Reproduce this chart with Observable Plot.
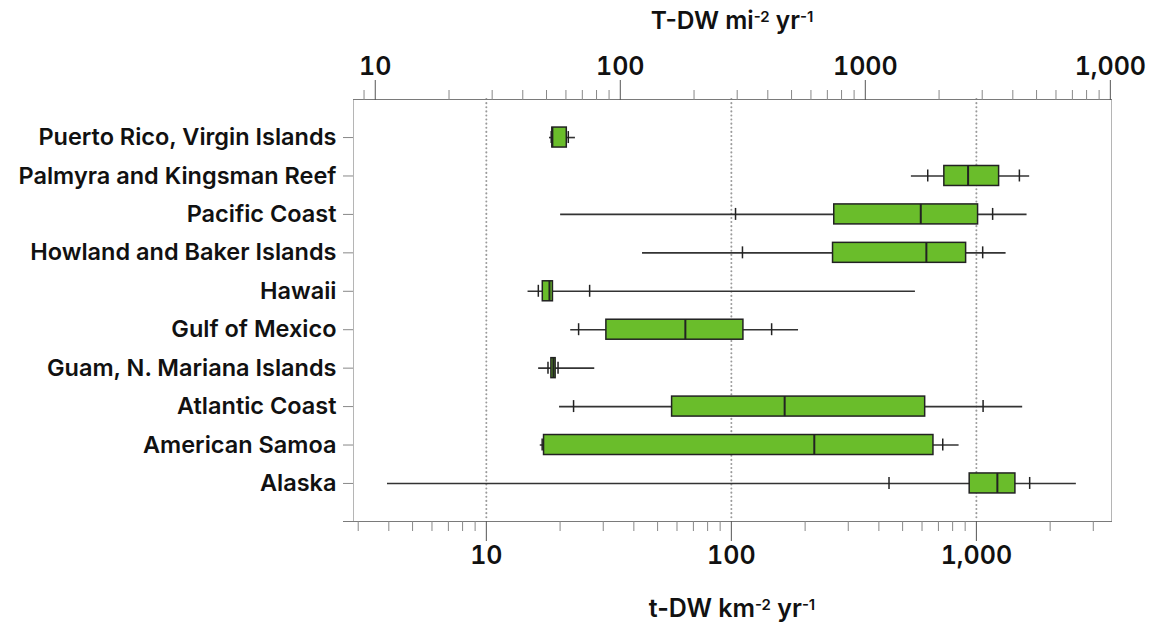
<!DOCTYPE html>
<html><head><meta charset="utf-8">
<script src="https://cdn.jsdelivr.net/npm/d3@7"></script>
<script src="https://cdn.jsdelivr.net/npm/@observablehq/plot@0.6"></script>
<style>
body{margin:0;background:#fff;font-family:Inter,"Liberation Sans",sans-serif;}
#wrap{width:1151px;height:626px;overflow:hidden;position:relative;}
.ttl{box-sizing:border-box;padding-left:353px;width:1111px;text-align:center;font-weight:600;color:#111;white-space:nowrap;}
#top{height:40px;line-height:40px;padding-top:0px;font-size:24.5px;}
#bot{height:41px;line-height:41px;padding-top:3px;font-size:25px;}
.ttl sup{font-size:15px;vertical-align:0.5em;line-height:0;}
#chart svg{display:block;}
</style></head>
<body><div id="wrap">
<div class="ttl" id="top">T-DW mi<sup>-2</sup> yr<sup>-1</sup></div>
<div id="chart"></div>
<div class="ttl" id="bot">t-DW km<sup>-2</sup> yr<sup>-1</sup></div>
</div>
<script>
// Categories (top to bottom)
const categories = ["Puerto Rico, Virgin Islands", "Palmyra and Kingsman Reef", "Pacific Coast", "Howland and Baker Islands", "Hawaii", "Gulf of Mexico", "Guam, N. Mariana Islands", "Atlantic Coast", "American Samoa", "Alaska"];
// Box-plot statistics, t-DW km^-2 yr^-1
const minV = [18.1, 543, 20.1, 43.4, 14.8, 22.1, 16.35, 19.9, 16.6, 3.95];
const p10V = [18.4, 633, 104, 111, 16.3, 23.8, 17.85, 22.7, 16.9, 440];
const q1V  = [18.6, 740, 263, 260, 17.0, 30.9, 18.43, 57.3, 17.2, 939];
const medV = [18.6, 925, 593, 625, 18.1, 64.9, 18.77, 165, 218, 1218];
const q3V  = [21.3, 1238, 1016, 908, 18.7, 112, 19.18, 618, 668, 1443];
const p90V = [21.6, 1498, 1165, 1061, 26.4, 146, 19.62, 1065, 729, 1650];
const maxV = [23.1, 1650, 1610, 1322, 564, 188, 27.7, 1545, 850, 2559];

// Axis ticks
const xDomain = [2.87, 3560];
const bottomMajor = [10, 100, 1000];
const bottomMajorLabels = ["10", "100", "1,000"];
const bottomMinor = [3, 4, 5, 6, 7, 8, 9, 20, 30, 40, 50, 60, 70, 80, 90, 200, 300, 400, 500, 600, 700, 800, 900, 2000, 3000];
const miFactor = 2.84; // ratio between top (mi) and bottom (km) scales as drawn
const topMajorMi = [10, 100, 1000, 10000];
const topMajorLabels = ["10", "100", "1000", "1,000"];
const topMinorMi = [9, 20, 30, 40, 50, 60, 70, 80, 90, 200, 300, 400, 500, 600, 700, 800, 900, 2000, 3000, 4000, 5000, 6000, 7000, 8000, 9000];

const data = categories.map((name, i) => ({name, min: minV[i], p10: p10V[i], q1: q1V[i], med: medV[i], q3: q3V[i], p90: p90V[i], max: maxV[i]}));
const toKm = m => m / miFactor;
const topMajorKm = topMajorMi.map(toKm);
const topMinorKm = topMinorMi.map(toKm);
const botMap = new Map(bottomMajor.map((d, i) => [d, bottomMajorLabels[i]]));
const topMap = new Map(topMajorKm.map((d, i) => [d, topMajorLabels[i]]));

const font = "Inter, 'Liberation Sans', sans-serif";
const chart = Plot.plot({
  width: 1151, height: 545,
  marginLeft: 353, marginRight: 40, marginTop: 59, marginBottom: 64,
  style: {fontFamily: font, background: "#fff", color: "#111", overflow: "visible"},
  x: {type: "log", domain: xDomain, axis: null, label: null},
  y: {domain: categories, paddingInner: 0.48, paddingOuter: 0.73, round: false, axis: null, label: null},
  marks: [
    Plot.ruleX(bottomMajor, {x: d => d, stroke: "#9a9a9a", strokeWidth: 2, strokeDasharray: "0.1,4", strokeLinecap: "round"}),
    Plot.frame({stroke: "#b5b5b5"}),
    Plot.frame({anchor: "top", stroke: "#7a7a7a"}),
    Plot.frame({anchor: "bottom", stroke: "#7a7a7a", insetLeft: -10}),
    Plot.axisY({anchor: "left", tickSize: 10, tickPadding: 7, stroke: "#888", fill: "#111", fontSize: 23.5, fontWeight: 600, label: null}),
    Plot.axisX({anchor: "bottom", ticks: bottomMajor, tickSize: 20, tickPadding: 5, tickFormat: d => botMap.get(d), stroke: "#555", fill: "#111", fontSize: 25, fontWeight: 600, label: null}),
    Plot.axisX({anchor: "bottom", ticks: bottomMinor, tickSize: 10, tickFormat: () => "", stroke: "#888", label: null}),
    Plot.axisX({anchor: "top", ticks: topMajorKm, tickSize: 20, tickPadding: 5, tickFormat: d => topMap.get(d), stroke: "#555", fill: "#111", fontSize: 25, fontWeight: 600, label: null}),
    Plot.axisX({anchor: "top", ticks: topMinorKm, tickSize: 10, tickFormat: () => "", stroke: "#888", label: null}),
    Plot.ruleY(data, {y: "name", x1: "min", x2: "max", stroke: "#333", strokeWidth: 1.6}),
    Plot.barX(data, {y: "name", x1: "q1", x2: "q3", fill: "#6abd2b", stroke: "#222", strokeWidth: 1.5}),
    Plot.tickX(data, {y: "name", x: "med", stroke: "#222", strokeWidth: 2}),
    Plot.tickX(data, {y: "name", x: "p10", stroke: "#222", strokeWidth: 1.5, insetTop: 4, insetBottom: 4}),
    Plot.tickX(data, {y: "name", x: "p90", stroke: "#222", strokeWidth: 1.5, insetTop: 4, insetBottom: 4})
  ]
});
document.getElementById("chart").appendChild(chart);
</script>
</body></html>
